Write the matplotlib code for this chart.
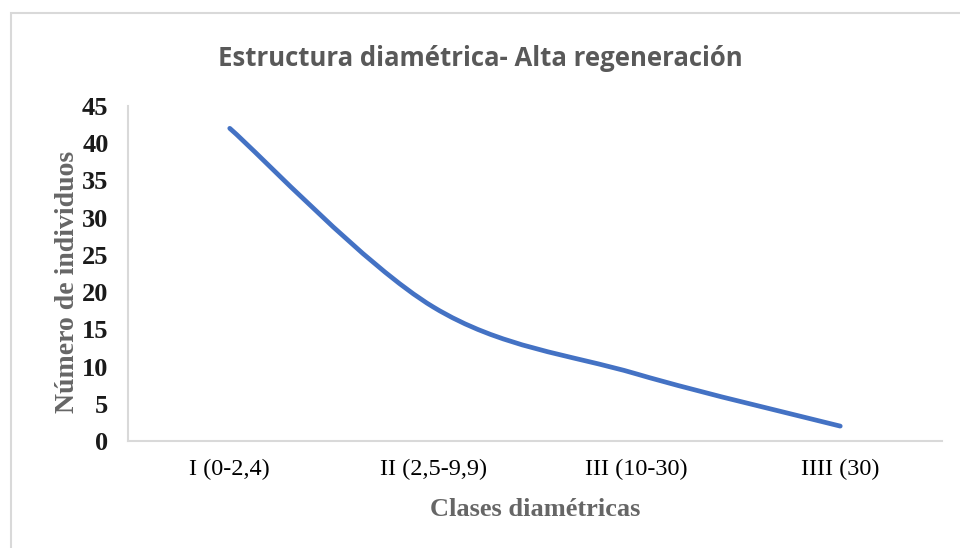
import numpy as np
import matplotlib
matplotlib.use('Agg')
import matplotlib.pyplot as plt
from matplotlib.path import Path
from matplotlib.patches import PathPatch, Rectangle

# datos
clases = ['I (0-2,4)', 'II (2,5-9,9)', 'III (10-30)', 'IIII (30)']
individuos = [42, 18, 9, 2]
yticks = [0, 5, 10, 15, 20, 25, 30, 35, 40, 45]

fig = plt.figure(figsize=(9.6, 5.48), dpi=100)
ax = fig.add_axes([128 / 960, 1 - 441 / 548, (942 - 128) / 960, (441 - 106) / 548])

# borde del grafico (estilo Excel)
fig.patches.append(Rectangle((11 / 960, -0.1), 1.2, 1 - 13 / 548 + 0.1,
                             transform=fig.transFigure, fill=False,
                             edgecolor='#d9d9d9', linewidth=1.5))

# linea suavizada con curvas Bezier (como Excel)
x = np.arange(len(clases), dtype=float)
y = np.array(individuos, dtype=float)
pts = np.column_stack([x, y])
ext = np.vstack([pts[0], pts, pts[-1]])
verts = [tuple(pts[0])]
codes = [Path.MOVETO]
for i in range(len(pts) - 1):
    p0, p1, p2, p3 = ext[i], ext[i + 1], ext[i + 2], ext[i + 3]
    c1 = p1 + (p2 - p0) / 6
    c2 = p2 - (p3 - p1) / 6
    verts += [tuple(c1), tuple(c2), tuple(p2)]
    codes += [Path.CURVE4] * 3
ax.add_patch(PathPatch(Path(verts, codes), fill=False, edgecolor='#4472C4',
                       linewidth=3.4, capstyle='round', joinstyle='round'))

ax.set_xlim(-0.5, len(clases) - 0.5)
ax.set_ylim(0, 45)
ax.set_xticks(x)
ax.set_xticklabels(clases, family='Liberation Serif', fontsize=17.5, color='#000000')
ax.set_yticks(yticks)
ax.set_yticklabels([str(v) for v in yticks], family='Liberation Serif',
                   fontsize=19, fontweight='bold', color='#1a1a1a')
ax.tick_params(length=0)
ax.tick_params(axis='x', pad=13)
ax.tick_params(axis='y', pad=14)

for s in ['top', 'right']:
    ax.spines[s].set_visible(False)
for s in ['left', 'bottom']:
    ax.spines[s].set_color('#d9d9d9')
    ax.spines[s].set_linewidth(1.5)

ax.set_xlabel('Clases diamétricas', family='Liberation Serif', fontsize=19,
              fontweight='bold', color='#666666', labelpad=13)
ax.set_ylabel('Número de individuos', family='Liberation Serif', fontsize=20,
              fontweight='bold', color='#666666', labelpad=0)
ax.yaxis.set_label_coords(-0.059, 0.475)

fig.text(0.5, 1 - 58 / 548, 'Estructura diamétrica- Alta regeneración',
         ha='center', va='center', family='Open Sans', fontsize=18.5,
         fontweight='bold', color='#595959')

fig.savefig('out.png', dpi=100)
